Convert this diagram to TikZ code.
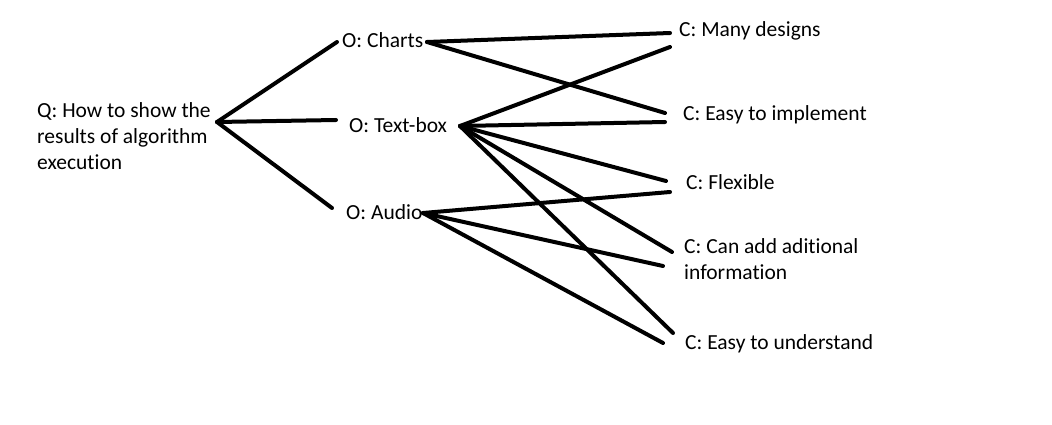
\documentclass[tikz,border=0pt]{standalone}
\usepackage{fontspec}
\setmainfont[Ligatures=NoCommon]{Carlito}
\begin{document}
\begin{tikzpicture}[x=1pt,y=-1pt,
		lbl/.style={anchor=west, inner sep=0pt, align=left, font=\fontsize{21.5}{26}\selectfont},
		edge/.style={line width=4pt, line cap=round}]
			\useasboundingbox (0,0) rectangle (1052,425);
			% labels
			\node[lbl] (q) at (37,136) {Q: How to show the\\results of algorithm\\execution};
			\node[lbl] (charts) at (342,40) {O: Charts};
			\node[lbl] (textbox) at (349,125) {O: Text-box};
			\node[lbl] (audio) at (346,212) {O: Audio};
			\node[lbl] (many) at (679,31) {C: Many designs};
			\node[lbl] (impl) at (683,115) {C: Easy to implement};
			\node[lbl] (flex) at (686,182) {C: Flexible};
			\node[lbl] (add) at (684,259) {C: Can add aditional\\information};
			\node[lbl] (under) at (685,344) {C: Easy to understand};
			% line ends
			\coordinate (q-r) at (217,122);
			\coordinate (charts-l) at (337,42);
			\coordinate (charts-r) at (427,42);
			\coordinate (textbox-l) at (336,120);
			\coordinate (textbox-r) at (460,126);
			\coordinate (audio-l) at (332,208);
			\coordinate (audio-r) at (423,213);
			\coordinate (many-a) at (670,33);
			\coordinate (many-b) at (670,47);
			\coordinate (impl-a) at (665,113);
			\coordinate (impl-b) at (665,122);
			\coordinate (flex-a) at (666,181);
			\coordinate (flex-b) at (670,192);
			\coordinate (add-a) at (672,252);
			\coordinate (add-b) at (663,266);
			\coordinate (under-a) at (673,333);
			\coordinate (under-b) at (663,343);
			\foreach \i in {charts-l,textbox-l,audio-l}{
				\draw[edge] (q-r) -- (\i);
			}
			\foreach \i\j in {charts-r/many-a,charts-r/impl-a,textbox-r/many-b,textbox-r/impl-b,textbox-r/flex-a,textbox-r/add-a,textbox-r/under-a,audio-r/flex-b,audio-r/add-b,audio-r/under-b}{
				\draw[edge] (\i) -- (\j);
			}
		\end{tikzpicture}
\end{document}
